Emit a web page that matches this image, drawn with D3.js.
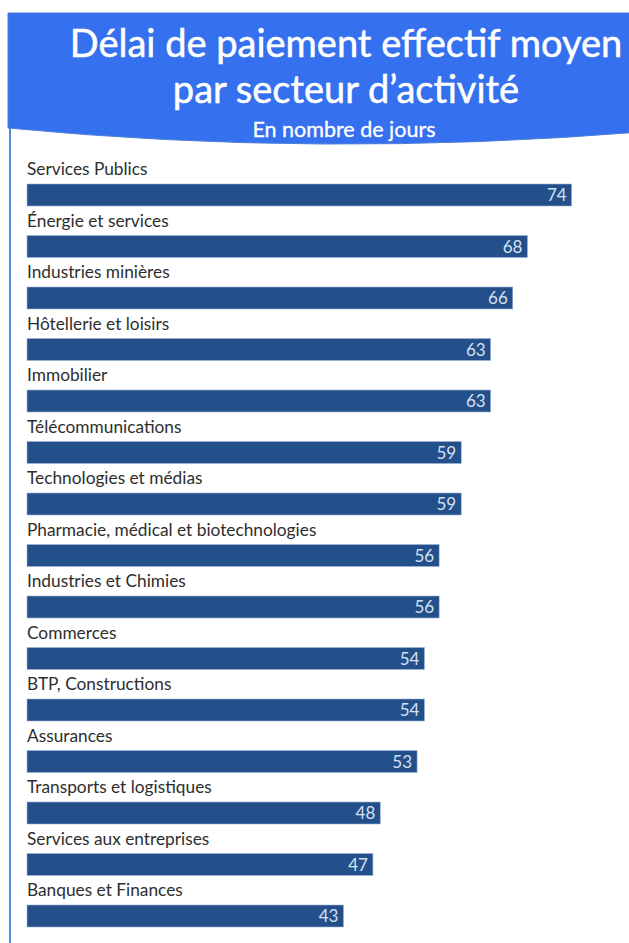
<!DOCTYPE html>
<html>
<head>
<meta charset="utf-8">
<script src="https://cdn.jsdelivr.net/npm/d3@7"></script>
<style>
    body { margin: 0; background: #fff; }
    svg { display: block; }
</style>
</head>
<body>
<svg id="chart" width="629" height="943"></svg>
<script>

var categories = [
      "Services Publics"
    , "Énergie et services"
    , "Industries minières"
    , "Hôtellerie et loisirs"
    , "Immobilier"
    , "Télécommunications"
    , "Technologies et médias"
    , "Pharmacie, médical et biotechnologies"
    , "Industries et Chimies"
    , "Commerces"
    , "BTP, Constructions"
    , "Assurances"
    , "Transports et logistiques"
    , "Services aux entreprises"
    , "Banques et Finances"
];

var values = [74, 68, 66, 63, 63, 59, 59, 56, 56, 54, 54, 53, 48, 47, 43];

var titleLines = ["Délai de paiement effectif moyen", "par secteur d’activité"];
var subtitle = "En nombre de jours";

(function () {

    var svg = d3.select("#chart");

    var x = d3.scaleLinear()
        .domain([0, 80])
        .range([27, 27 + 80 * 7.36]);

    var y = d3.scaleBand()
        .domain(categories)
        .range([158, 158 + categories.length * 51.5])
        .padding(0);

    // left frame line
    svg.append("line")
        .attr("x1", 10).attr("x2", 10)
        .attr("y1", 13).attr("y2", 943)
        .attr("stroke", "#5b8ed8")
        .attr("stroke-width", 2);

    // banner with curved bottom
    svg.append("path")
        .attr("d", "M8,13 L640,13 L640,132 Q320,158 8,128 Z")
        .attr("fill", "#3570ee")
        .attr("stroke", "#4d7fd6")
        .attr("stroke-width", 1);

    svg.selectAll("text.title")
        .data(titleLines)
        .enter()
        .append("text")
        .attr("class", "title")
        .attr("x", 346)
        .attr("y", function (d, i) { return 57 + i * 46; })
        .attr("text-anchor", "middle")
        .attr("fill", "#fff")
        .attr("stroke", "#fff")
        .attr("stroke-width", 0.5)
        .style("font-family", "Lato, sans-serif")
        .style("font-size", "38px")
        .text(function (d) { return d; });

    svg.append("text")
        .attr("x", 344)
        .attr("y", 137)
        .attr("text-anchor", "middle")
        .attr("fill", "#fff")
        .attr("stroke", "#fff")
        .attr("stroke-width", 0.3)
        .style("font-family", "Lato, sans-serif")
        .style("font-size", "21.5px")
        .text(subtitle);

    var rows = svg.selectAll("g.row")
        .data(categories)
        .enter()
        .append("g")
        .attr("class", "row")
        .attr("transform", function (d) { return "translate(0," + y(d) + ")"; });

    rows.append("text")
        .attr("x", 27)
        .attr("y", 17)
        .attr("fill", "#2e2e2e")
        .style("font-family", "Lato, sans-serif")
        .style("font-size", "17.3px")
        .text(function (d) { return d; });

    rows.append("rect")
        .attr("x", x(0))
        .attr("y", 26)
        .attr("height", 22)
        .attr("width", function (d, i) { return x(values[i]) - x(0); })
        .attr("fill", "#234f8b")
        .attr("stroke", "#9fb6d6")
        .attr("stroke-width", 0.6);

    rows.append("text")
        .attr("x", function (d, i) { return x(values[i]) - 5; })
        .attr("y", 43)
        .attr("text-anchor", "end")
        .attr("fill", "#d5e1f1")
        .style("font-family", "Lato, sans-serif")
        .style("font-size", "17px")
        .text(function (d, i) { return values[i]; });

})();

</script>
</body>
</html>
